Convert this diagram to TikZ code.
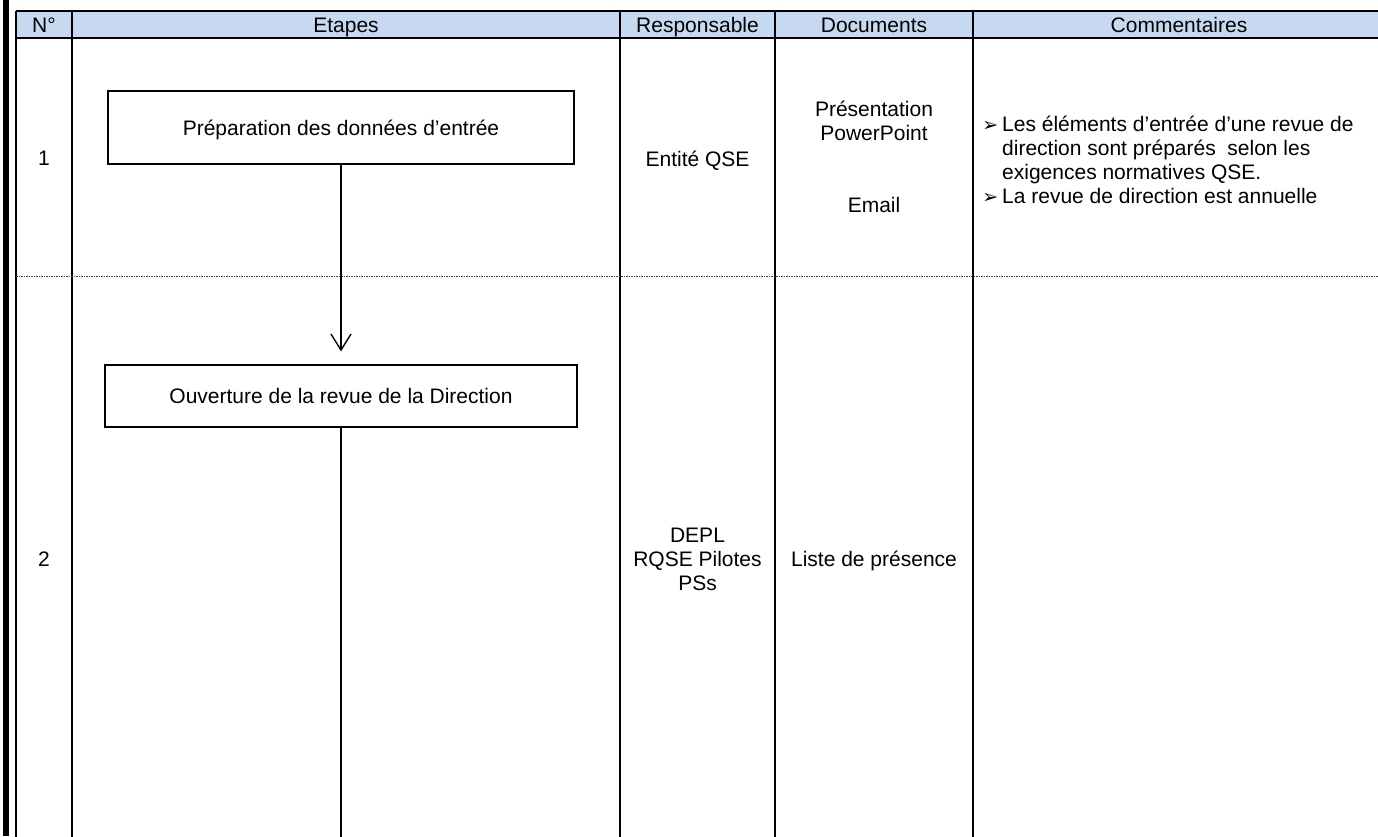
\documentclass[tikz,border=0pt]{standalone}
\usepackage{fontspec}
\setmainfont{Liberation Sans}
\newfontfamily\dingfont{DejaVu Sans}
\usetikzlibrary{arrows.meta}
\definecolor{entete}{HTML}{C6D9F1}
\newcommand\puce{\llap{{\dingfont\fontsize{19}{24}\selectfont ➢}\hspace{4pt}}}
\begin{document}
\begin{tikzpicture}[x=1pt,y=-1pt,
    font=\fontsize{21}{24}\selectfont,
    trait/.style={line width=1.6pt},
    etape/.style={draw,line width=1.2pt,inner sep=0pt,text height=20pt,text depth=5pt},
    txt/.style={align=center,inner sep=0pt,anchor=base},
    lien/.style={line width=1.4pt},
    fleche/.style={lien,-{Straight Barb[length=16pt,width=20pt,line width=1.4pt]}}]
  \useasboundingbox (0,0) rectangle (1378,836);
  % cadre du tableau
  \fill (3,0) rectangle (9,836);
  \fill[entete] (16,11) rectangle (1380,38);
  \draw[trait] (16,11) -- (1380,11) (16,38) -- (1380,38);
  \foreach \x in {16,72,620,775,973}
    \draw[trait] (\x,11) -- (\x,842);
  \draw[line width=0.8pt,black!75,dash pattern=on 1.5pt off 1pt] (16,276) -- (1380,276);
  % en-tete
  \node[txt] (hnum) at (44,32) {N°};
  \node[txt] (hetap) at (346,32) {Etapes};
  \node[txt] (hresp) at (697.5,32) {Responsable};
  \node[txt] (hdoc) at (874,32) {Documents};
  \node[txt] (hcom) at (1179,32) {Commentaires};
  % ligne 1 (base = derniere ligne du texte)
  \node[txt] (n1) at (44,165.5) {1};
  \node[etape,minimum width=466pt,minimum height=73pt] (prep) at (341,127.5) {Préparation des données d’entrée};
  \node[txt] (resp1) at (697.5,166.5) {Entité QSE};
  \node[txt] (pres) at (874,140.5) {Présentation\\PowerPoint};
  \node[txt] (mail) at (874,212.5) {Email};
  \node[txt,align=left,anchor=base west] (com1) at (1002,203.5)
    {\puce Les éléments d’entrée d’une revue de\\direction sont préparés \ selon les\\exigences normatives QSE.\\\puce La revue de direction est annuelle};
  % ligne 2
  \node[txt] (n2) at (44,566.5) {2};
  \node[etape,minimum width=472pt,minimum height=62pt] (ouv) at (341,396) {Ouverture de la revue de la Direction};
  \node[txt] (resp2) at (697.5,590.5) {DEPL\\RQSE Pilotes\\PSs};
  \node[txt] (liste) at (874,566.5) {Liste de présence};
  % liaisons
  \coordinate (bas) at (341,842);
  \draw[fleche,shorten >=13pt] (prep) -- (ouv);
  \draw[lien] (ouv) -- (bas);
\end{tikzpicture}
\end{document}
